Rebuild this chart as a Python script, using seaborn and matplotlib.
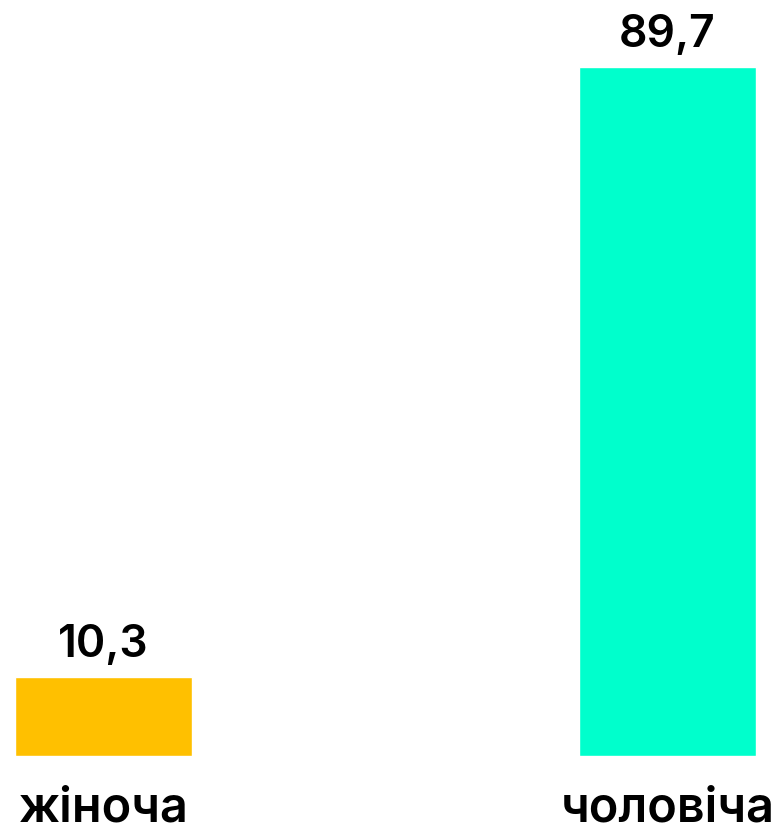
import matplotlib
matplotlib.use("Agg")
import matplotlib.pyplot as plt
import seaborn as sns
import pandas as pd

# data
categories = ["жіноча", "чоловіча"]
values = [10.3, 89.7]
colors = ["#FFC000", "#00FFCC"]

df = pd.DataFrame({"cat": categories, "val": values})

sns.set_theme(style="white")
plt.rcParams["font.family"] = ["Inter", "DejaVu Sans"]

w = 741 / 564 - 1
fig = plt.figure(figsize=(7.8, 8.3), dpi=100)
ax = fig.add_axes([15 / 780, 74 / 830, 741 / 780, 756 / 830])

sns.barplot(data=df, x="cat", y="val", hue="cat", palette=colors,
            width=w, legend=False, ax=ax, saturation=1)

ax.set_xlim(-w / 2, 1 + w / 2)
ax.set_ylim(0, 89.7 * 756 / 689)

for c in ax.containers:
    ax.bar_label(c, labels=[f"{v:.1f}".replace(".", ",") for v in c.datavalues],
                 padding=8, fontsize=32, fontweight="semibold", color="black")

ax.set_xlabel("")
ax.set_ylabel("")
ax.set_yticks([])
ax.tick_params(axis="x", length=0, pad=21, labelsize=35)
for t in ax.get_xticklabels():
    t.set_fontweight("semibold")
    t.set_color("black")
sns.despine(ax=ax, left=True, bottom=True)

fig.savefig("out.png", dpi=100)
